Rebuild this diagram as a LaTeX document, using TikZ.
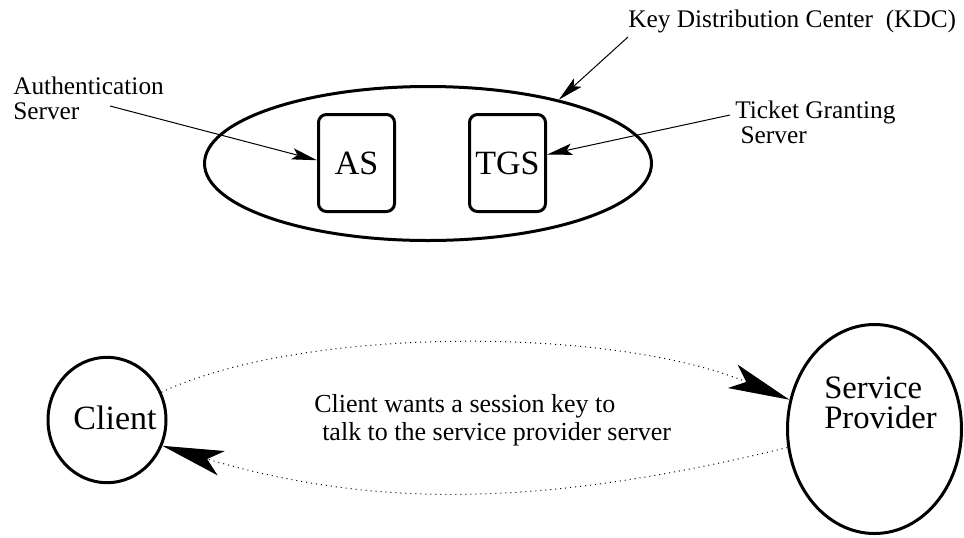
\documentclass[tikz,border=0pt]{standalone}
\usepackage{fontspec}
\setmainfont{Liberation Serif}
\newfontfamily\timesfont{Liberation Serif}
\usetikzlibrary{arrows.meta,shapes.geometric}

\begin{document}
\begin{tikzpicture}[x=0.75pt,y=-0.75pt,font=\timesfont]
		\tikzstyle{server}=[draw,line width=2.25pt,rounded corners=6pt,minimum width=57pt,minimum height=72.75pt,inner sep=0pt,font=\timesfont\fontsize{25.5}{25.5}\selectfont]
		\tikzstyle{party}=[draw,ellipse,line width=2.25pt,inner sep=0pt]
		\tikzstyle{caption}=[inner sep=0pt,align=left,font=\timesfont\fontsize{19}{18.5}\selectfont]
		\tikzstyle{pointer}=[line width=0.75pt,arrows={-Stealth[length=19pt,width=8.5pt,inset=4pt]}]
		\tikzstyle{request}=[line width=0.75pt,dash pattern=on 0.75pt off 3pt,arrows={-Stealth[length=46pt,width=19pt,inset=11pt,sep=0pt]}]
		
		\useasboundingbox (0,0) rectangle (964,537);
		
		% key distribution center
		\node[party, minimum width=335.25pt, minimum height=115.5pt] (kdc) at (428,163.5) {};
		\node[server] (as) at (356.5,163) {AS};
		\node[server] (tgs) at (507.5,163) {TGS};
		
		\node[caption, anchor=base west] (kdclbl) at (628,27) {Key Distribution Center~ (KDC)};
		\node[caption, anchor=base west] (aslbl) at (13,119) {Authentication\\Server};
		\node[caption, anchor=base west] (tgslbl) at (735,143) {Ticket Granting\\\hspace{4pt}Server};
		
		\coordinate (kdcfrom) at (628,37);
		\coordinate (asfrom) at (110,106);
		\coordinate (tgsfrom) at (730,115);
		\draw [pointer] (kdcfrom) -- (kdc.26);
		\draw [pointer] (asfrom) -- (as.176);
		\draw [pointer] (tgsfrom) -- (tgs.12);
		
		% client and service provider
		\node[party, minimum width=88.5pt, minimum height=94pt] (client) at (107,420) {};
		\node[party, minimum width=130.5pt, minimum height=156.75pt] (sp) at (874.5,429) {};
		\node[inner sep=0pt, font=\timesfont\fontsize{25.5}{25.5}\selectfont] (clientlbl) at (115,418) {Client};
		\node[inner sep=0pt, anchor=base west, align=left, font=\timesfont\fontsize{24.5}{22}\selectfont] (splbl) at (824,428) {Service\\Provider};
		
		\draw [request] (client.27) .. controls (302,326) and (611,326) .. (sp.161);
		\draw [request] (sp.192) .. controls (539,508) and (373,508) .. (client.335);
		
		\node[inner sep=0pt, anchor=base west, align=left, font=\timesfont\fontsize{19.5}{21}\selectfont] (msg) at (314,440) {Client wants a session key to\\\hspace{6pt}talk to the service provider server};
\end{tikzpicture}
\end{document}
